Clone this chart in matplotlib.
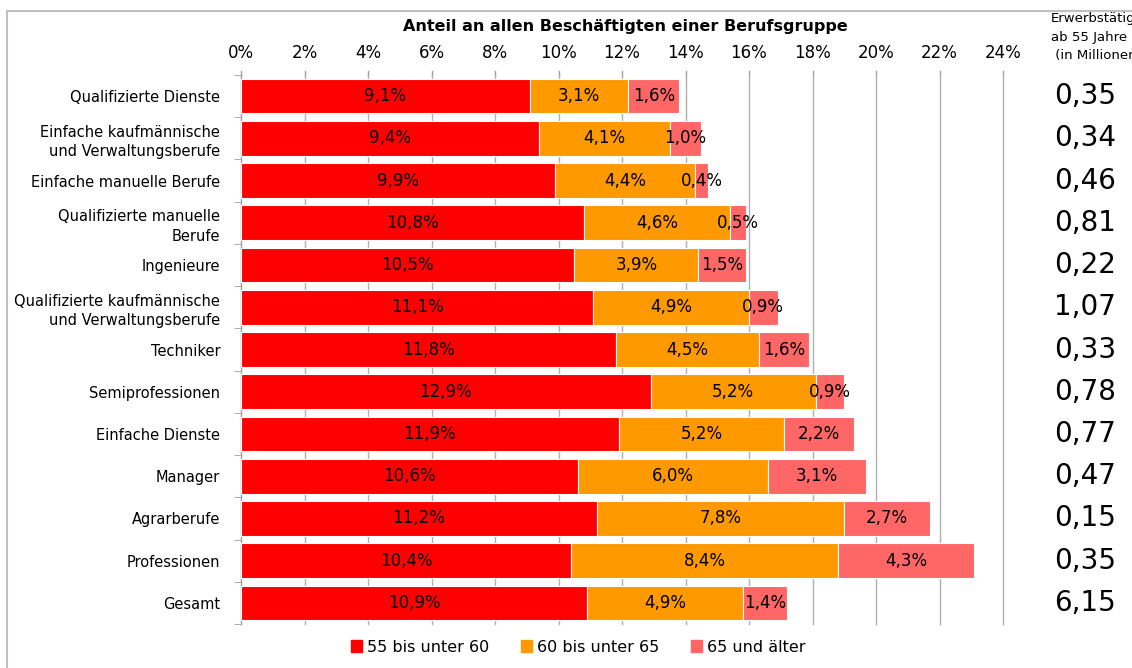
import numpy as np
import matplotlib.pyplot as plt
from matplotlib.lines import Line2D
from matplotlib.patches import Patch

categories = [
    'Qualifizierte Dienste',
    'Einfache kaufmännische\nund Verwaltungsberufe',
    'Einfache manuelle Berufe',
    'Qualifizierte manuelle\nBerufe',
    'Ingenieure',
    'Qualifizierte kaufmännische\nund Verwaltungsberufe',
    'Techniker',
    'Semiprofessionen',
    'Einfache Dienste',
    'Manager',
    'Agrarberufe',
    'Professionen',
    'Gesamt',
]
age_55_60 = [9.1, 9.4, 9.9, 10.8, 10.5, 11.1, 11.8, 12.9, 11.9, 10.6, 11.2, 10.4, 10.9]
age_60_65 = [3.1, 4.1, 4.4, 4.6, 3.9, 4.9, 4.5, 5.2, 5.2, 6.0, 7.8, 8.4, 4.9]
age_65_plus = [1.6, 1.0, 0.4, 0.5, 1.5, 0.9, 1.6, 0.9, 2.2, 3.1, 2.7, 4.3, 1.4]
employed_mio = [0.35, 0.34, 0.46, 0.81, 0.22, 1.07, 0.33, 0.78, 0.77, 0.47, 0.15, 0.35, 6.15]
series_names = ['55 bis unter 60', '60 bis unter 65', '65 und älter']
colors = ['#FF0000', '#FF9900', '#FF6666']

W, H = 1132, 668
fig = plt.figure(figsize=(W / 100, H / 100), dpi=100)
ax = fig.add_axes([241 / W, 1 - 624 / H, (1003 - 241) / W, (624 - 75) / H])

y = np.arange(len(categories))
left = np.zeros(len(categories))
for vals, col, name in zip([age_55_60, age_60_65, age_65_plus], colors, series_names):
    vals = np.array(vals)
    ax.barh(y, vals, left=left, height=0.82, color=col, edgecolor='white',
            linewidth=0.8, label=name, zorder=3)
    for yi, l, v in zip(y, left, vals):
        ax.text(l + v / 2, yi, f'{v:.1f}%'.replace('.', ','), ha='center', va='center',
                fontsize=12, color='black', zorder=4)
    left += vals

ax.set_xlim(0, 24)
ax.set_ylim(len(categories) - 0.5, -0.5)
ax.set_xticks(np.arange(0, 25, 2))
ax.set_xticklabels([f'{t}%' for t in range(0, 25, 2)])
ax.xaxis.tick_top()
ax.tick_params(axis='x', length=0, labelsize=12, pad=9)
ax.grid(axis='x', color='#B0B0B0', linewidth=1, zorder=0)
for gl in ax.get_xgridlines():
    gl.set_clip_on(False)

ax.set_yticks(y)
ax.set_yticklabels(categories, fontsize=10.5, linespacing=1.35)
ax.set_yticks(np.arange(-0.5, len(categories), 1), minor=True)
ax.tick_params(axis='y', which='major', length=0, pad=15)
ax.tick_params(axis='y', which='minor', length=5, color='#A0A0A0')

for side in ['top', 'right', 'bottom']:
    ax.spines[side].set_visible(False)
ax.spines['left'].set_color('#A0A0A0')

# top tick marks on the value axis
for t in range(0, 25, 2):
    ax.plot([t, t], [-0.5, -0.6], color='#A0A0A0', lw=1, clip_on=False, zorder=1)

fig.text(625 / W, 1 - 27 / H, 'Anteil an allen Beschäftigten einer Berufsgruppe',
         ha='center', va='center', fontsize=11.5, fontweight='bold')

# right column with counts
fig.text(1051 / W, 1 - 12 / H, 'Erwerbstätige\nab 55 Jahre\n (in Millionen)', ha='left', va='top',
         fontsize=9.5, linespacing=1.55)
for yi, v in zip(y, employed_mio):
    ypix = ax.transData.transform((0, yi))[1]
    fig.text(1085 / W, ypix / H, f'{v:.2f}'.replace('.', ','), ha='center', va='center', fontsize=20)

# outer frame (top and left)
fig.add_artist(Line2D([7 / W, 1], [1 - 11 / H, 1 - 11 / H], color='#C0C0C0', lw=1.5))
fig.add_artist(Line2D([7 / W, 7 / W], [0, 1 - 11 / H], color='#C0C0C0', lw=1.5))

handles = [Patch(color=c, label=n) for c, n in zip(colors, series_names)]
fig.legend(handles=handles, loc='center', bbox_to_anchor=(578 / W, 1 - 647 / H), ncol=3,
           frameon=False, fontsize=11.5, handlelength=0.7, handleheight=0.7,
           handletextpad=0.3, columnspacing=2.0)

fig.savefig('out.png', dpi=100)
